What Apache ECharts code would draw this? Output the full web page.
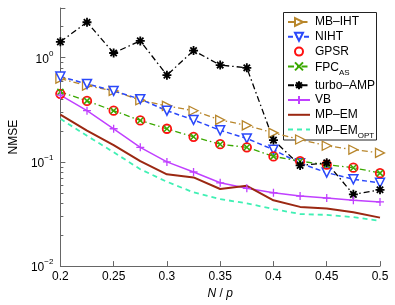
<!DOCTYPE html>
<html><head><meta charset="utf-8">
<script src="https://cdn.jsdelivr.net/npm/echarts@6/dist/echarts.min.js"></script>
<style>html,body{margin:0;padding:0;background:#fff}#c{width:395px;height:305px}</style>
</head><body><div id="c"></div>
<script>
const xValues = [0.2, 0.225, 0.25, 0.275, 0.3, 0.325, 0.35, 0.375, 0.4, 0.425, 0.45, 0.475, 0.5];
const mbIht   = [0.63, 0.54, 0.48, 0.39, 0.345, 0.31, 0.253, 0.224, 0.19, 0.164, 0.143, 0.131, 0.122];
const niht    = [0.66, 0.56, 0.48, 0.40, 0.31, 0.253, 0.201, 0.168, 0.131, 0.097, 0.079, 0.068, 0.063];
const gpsr    = [0.45, 0.385, 0.31, 0.25, 0.208, 0.174, 0.148, 0.138, 0.113, 0.1016, 0.094, 0.088, 0.078];
const fpcAs   = [0.47, 0.385, 0.31, 0.25, 0.208, 0.174, 0.148, 0.138, 0.113, 0.1016, 0.094, 0.088, 0.078];
const turbo   = [1.42, 2.19, 1.11, 1.45, 0.68, 1.17, 0.85, 0.80, 0.162, 0.0925, 0.098, 0.0488, 0.054];
const vb      = [0.438, 0.31, 0.208, 0.138, 0.1, 0.08, 0.063, 0.0558, 0.0506, 0.047, 0.045, 0.0428, 0.0413];
const mpEm    = [0.284, 0.2, 0.145, 0.1016, 0.076, 0.071, 0.055, 0.059, 0.0428, 0.037, 0.0358, 0.0328, 0.0292];
const mpEmOpt = [0.259, 0.178, 0.124, 0.085, 0.0645, 0.051, 0.044, 0.040, 0.0353, 0.0316, 0.031, 0.0295, 0.0272];
const yMinorTicks = [0.02,0.03,0.04,0.05,0.06,0.07,0.08,0.09,0.2,0.3,0.4,0.5,0.6,0.7,0.8,0.9,2];
const seriesNames = ['MB–IHT', 'NIHT', 'GPSR', 'FPC_AS', 'turbo–AMP', 'VB', 'MP–EM', 'MP–EM_OPT'];

const FONT = '"Liberation Sans", Arial, Helvetica, sans-serif';
const dashDot = [6, 3, 1.5, 3];
function pairs(arr) { return xValues.map((x, i) => [x, arr[i]]); }

const C = {
  mb: '#b8862b', niht: '#2a48fa', gpsr: '#ff1010', fpc: '#3aa800',
  turbo: '#000000', vb: '#c040ff', em: '#9b2812', opt: '#40f0b4'
};
const starPath = 'path://M5,0L5,10M0,5L10,5M1.46,1.46L8.54,8.54M8.54,1.46L1.46,8.54';
const plusPath = 'path://M5,0L5,10M0,5L10,5';
const xPath = 'path://M0,0L10,10M10,0L0,10';
const noSymbol = {color: 'rgba(0,0,0,0)', borderColor: 'rgba(0,0,0,0)', borderWidth: 0};

const chart = echarts.init(document.getElementById('c'), null, {renderer: 'canvas'});
chart.setOption({
  animation: false,
  backgroundColor: '#fff',
  grid: {left: 45, right: 15, top: 8, bottom: 32},
  graphic: [{
    type: 'rect', z: 3, silent: true,
    shape: {x: 283.5, y: 12.5, width: 93, height: 127.5},
    style: {fill: '#fff', stroke: '#222', lineWidth: 1}
  }],
  xAxis: {
    type: 'value', min: 0.2, max: 0.5, interval: 0.05,
    axisLine: {lineStyle: {color: '#666'}},
    axisTick: {inside: true, length: 5, lineStyle: {color: '#666'}},
    splitLine: {show: false},
    axisLabel: {color: '#000', fontSize: 12, fontFamily: FONT, margin: 5},
    name: '{i|N} / {i|p}', nameLocation: 'middle', nameGap: 14,
    nameTextStyle: {color: '#000', fontSize: 12, fontFamily: FONT,
      rich: {i: {fontStyle: 'italic', fontSize: 12, fontFamily: FONT, color: '#000'}}}
  },
  yAxis: {
    type: 'log', logBase: 10, min: 0.01, max: 3,
    axisLine: {show: true, lineStyle: {color: '#666'}},
    axisTick: {inside: true, length: 5, lineStyle: {color: '#666'}},
    splitLine: {show: false},
    axisLabel: {
      margin: 7,
      formatter: function (v) {
        const l = Math.log10(v), e = Math.round(l);
        if (Math.abs(l - e) > 1e-6) return '';
        return '{b|10}{s|' + (e < 0 ? '−' + (-e) : e) + '}';
      },
      rich: {
        b: {fontSize: 12, fontFamily: FONT, color: '#000', verticalAlign: 'bottom'},
        s: {fontSize: 8, fontFamily: FONT, color: '#000', verticalAlign: 'bottom', padding: [0, 0, 8, 0]}
      }
    },
    name: 'NMSE', nameLocation: 'middle', nameGap: 27,
    nameTextStyle: {color: '#000', fontSize: 12, fontFamily: FONT}
  },
  legend: {
    orient: 'vertical', left: 283, top: 12, z: 5,
    padding: [3.5, 1, 3, 4], itemGap: 1.8, itemWidth: 22, itemHeight: 10,
    borderWidth: 0, backgroundColor: 'rgba(0,0,0,0)',
    selectedMode: false,
    data: seriesNames.map(n => (n.indexOf('MP–EM') === 0 ? {name: n, itemStyle: noSymbol} : {name: n})),
    formatter: function (n) {
      const m = n.match(/^(.*)_(.*)$/);
      return m ? '{n|' + m[1] + '}{sub|' + m[2] + '}' : n;
    },
    textStyle: {
      fontFamily: FONT, fontSize: 12, color: '#000', lineHeight: 13,
      rich: {
        n: {fontFamily: FONT, fontSize: 12, color: '#000', lineHeight: 13, verticalAlign: 'top', padding: [2, 0, 2, 0]},
        sub: {fontFamily: FONT, fontSize: 8, color: '#000', verticalAlign: 'top', lineHeight: 8, padding: [9, 0, 0, 0]}
      }
    }
  },
  series: [
    {type: 'custom', silent: true, clip: false, z: 1,
      data: yMinorTicks.map(v => [xValues[0], v]),
      renderItem: function (params, api) {
        const p = api.coord([api.value(0), api.value(1)]);
        const y = Math.round(p[1]) + 0.5;
        return {type: 'line', shape: {x1: p[0], y1: y, x2: p[0] + 3, y2: y},
          style: {stroke: '#666', lineWidth: 1}};
      }},
    {name: 'MB–IHT', type: 'line', data: pairs(mbIht), symbol: 'triangle', symbolRotate: -90, symbolSize: 9,
      lineStyle: {color: C.mb, width: 1.3, type: dashDot},
      itemStyle: {color: '#fff', borderColor: C.mb, borderWidth: 1.3}},
    {name: 'NIHT', type: 'line', data: pairs(niht), symbol: 'triangle', symbolRotate: 180, symbolSize: 9,
      lineStyle: {color: C.niht, width: 1.5, type: [5, 3]},
      itemStyle: {color: '#fff', borderColor: C.niht, borderWidth: 1.5}},
    {name: 'GPSR', type: 'line', data: pairs(gpsr), symbol: 'circle', symbolSize: 8.5,
      lineStyle: {color: C.gpsr, width: 0, opacity: 0},
      itemStyle: {color: 'rgba(255,255,255,0)', borderColor: C.gpsr, borderWidth: 1.8}},
    {name: 'FPC_AS', type: 'line', data: pairs(fpcAs), symbol: xPath, symbolSize: 6,
      lineStyle: {color: C.fpc, width: 1.3, type: dashDot},
      itemStyle: {color: 'none', borderColor: C.fpc, borderWidth: 1.5}},
    {name: 'turbo–AMP', type: 'line', data: pairs(turbo), symbol: starPath, symbolSize: 9,
      lineStyle: {color: C.turbo, width: 1.3, type: dashDot},
      itemStyle: {color: 'none', borderColor: C.turbo, borderWidth: 1.8}},
    {name: 'VB', type: 'line', data: pairs(vb), symbol: plusPath, symbolSize: 8,
      lineStyle: {color: C.vb, width: 1.5},
      itemStyle: {color: 'none', borderColor: C.vb, borderWidth: 1.3}},
    {name: 'MP–EM', type: 'line', data: pairs(mpEm), symbol: 'none',
      lineStyle: {color: C.em, width: 2}, itemStyle: {color: C.em}},
    {name: 'MP–EM_OPT', type: 'line', data: pairs(mpEmOpt), symbol: 'none',
      lineStyle: {color: C.opt, width: 1.8, type: [5, 4]}, itemStyle: {color: C.opt}}
  ]
});
</script></body></html>
